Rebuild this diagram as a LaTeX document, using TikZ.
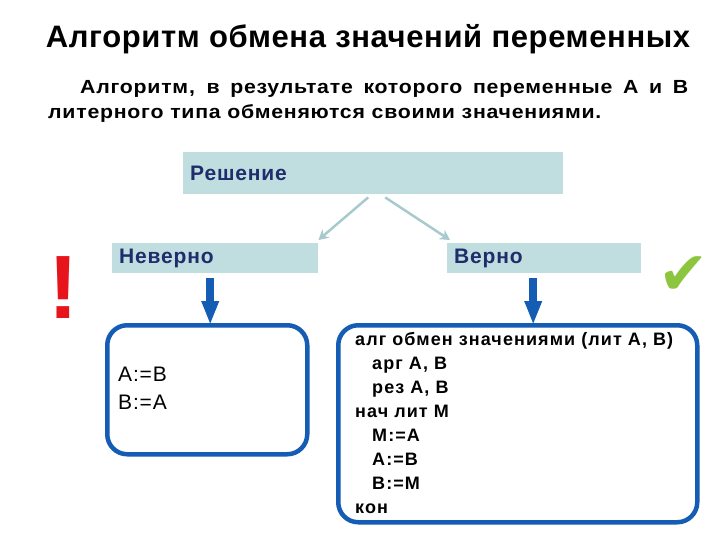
\documentclass[tikz,border=0pt]{standalone}
\usepackage{fontspec}
\setmainfont{Liberation Sans}
\newfontfamily\titlefont[LetterSpace=2]{Liberation Sans}
\newfontfamily\introfont[FakeStretch=1.12,LetterSpace=4]{Liberation Sans}
\newfontfamily\labelfont[LetterSpace=4]{Liberation Sans}
\newfontfamily\codefont[LetterSpace=6]{Liberation Sans}
\newfontfamily\symfont{DejaVu Sans}
\usetikzlibrary{positioning,calc,arrows.meta}
\definecolor{boxfill}{RGB}{192,222,224}
\definecolor{navy}{RGB}{31,45,107}
\definecolor{frameblue}{RGB}{20,92,180}
\definecolor{pale}{RGB}{168,202,206}
\definecolor{bangred}{RGB}{232,20,27}
\definecolor{tickgreen}{RGB}{140,198,63}

\begin{document}
\begin{tikzpicture}[x=1pt,y=-1pt,
    st/.style={fill=boxfill,text=navy,font=\labelfont\fontsize{21}{22}\selectfont\bfseries,
      anchor=north west,inner xsep=7pt,align=left},
    fr/.style={draw=frameblue,line width=4.5pt,rounded corners=20pt,anchor=north west,inner sep=0pt},
    txt/.style={align=left,anchor=north west,inner sep=0pt},
    gar/.style={draw=pale,line width=2.5pt,-{Stealth[length=10pt,width=11pt]}},
    bar/.style={draw=frameblue,line width=8pt,-{Triangle[length=24pt,width=16pt]}},
  ]
  \useasboundingbox (0,0) rectangle (720,540);
  \node[anchor=base,font=\titlefont\fontsize{31}{34}\selectfont\bfseries] (title) at (368,48) {Алгоритм обмена значений переменных};
  \node[txt,text width=640pt,align=justify,font=\introfont\fontsize{19}{25}\selectfont\bfseries] (intro) at (48,80)
    {\hspace*{32pt}Алгоритм, в результате которого переменные А и В\linebreak литерного типа обменяются своими значениями.};

  \node[st,minimum width=380pt,minimum height=42pt,text width=366pt] (sol) at (183,152) {\raisebox{-2pt}{Решение}};
  \node[st,minimum width=206pt,minimum height=30pt,text width=192pt] (wrong) at (112,243) {\raisebox{-2pt}{Неверно}};
  \node[st,minimum width=194pt,minimum height=30pt,text width=180pt] (right) at (447,243) {\raisebox{-2pt}{Верно}};
  \node[text=bangred,font=\fontsize{90}{90}\selectfont\bfseries] (bang) at (63,288) {!};
  \node[text=tickgreen,font=\symfont\fontsize{60}{60}\selectfont] (tick) at (684,276) {✔};

  \node[fr,minimum width=200pt,minimum height=129pt] (wrongbox) at (105,323) {};
  \node[fr,minimum width=359pt,minimum height=197pt] (rightbox) at (336,323) {};
  \node[txt,font=\labelfont\fontsize{21}{28}\selectfont] (swap) at (118,367) {A:=B\\B:=A};
  \node[txt,font=\codefont\fontsize{18}{24}\selectfont\bfseries] (prog) at (355,332)
    {алг обмен значениями (лит А, В)\\
     \hspace*{17pt}арг А, В\\
     \hspace*{17pt}рез А, В\\
     нач лит М\\
     \hspace*{17pt}М:=А\\
     \hspace*{17pt}А:=В\\
     \hspace*{17pt}В:=М\\
     кон};

  \draw[gar] ($(sol.south)+(-5,3)$) -- ($(wrong.north east)+(0,-3)$);
  \draw[gar] ($(sol.south)+(12,3)$) -- ($(right.north west)+(3,-3)$);
  \draw[bar] ($(wrong.south)+(-5,5)$) -- ($(wrong.south |- wrongbox.north)+(-5,2)$);
  \draw[bar] ($(right.south)+(-11,5)$) -- ($(right.south |- rightbox.north)+(-11,2)$);
\end{tikzpicture}
\end{document}
